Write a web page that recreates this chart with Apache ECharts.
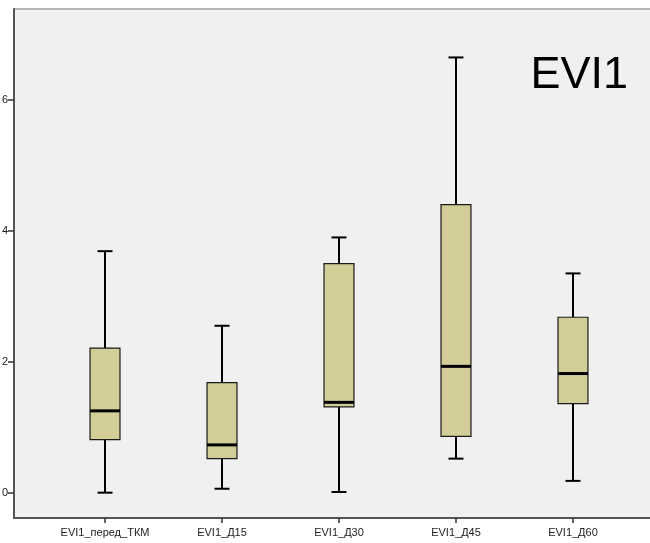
<!DOCTYPE html>
<html>
<head>
<meta charset="utf-8">
<script src="https://cdn.jsdelivr.net/npm/echarts@6/dist/echarts.min.js"></script>
<style>
  html, body { margin: 0; padding: 0; background: #ffffff; }
  #chart { width: 650px; height: 543px; }
</style>
</head>
<body>
<div id="chart"></div>
<script>
// Groups along the horizontal axis
const categories = ['EVI1_перед_ТКМ', 'EVI1_Д15', 'EVI1_Д30', 'EVI1_Д45', 'EVI1_Д60'];
// Five-number summaries per group
const whiskerLow = [0.00, 0.06, 0.01, 0.52, 0.18];
const quartile1  = [0.81, 0.52, 1.31, 0.86, 1.36];
const medians    = [1.25, 0.73, 1.38, 1.93, 1.82];
const quartile3  = [2.21, 1.68, 3.50, 4.40, 2.68];
const whiskerHigh= [3.69, 2.55, 3.90, 6.65, 3.35];
// Value axis tick marks
const yTicks = [0, 2, 4, 6];
const xPositions = categories.map((_, i) => i + 1);
const chartTitle = 'EVI1';

const boxData = categories.map((_, i) => [
  xPositions[i], whiskerLow[i], quartile1[i], medians[i], quartile3[i], whiskerHigh[i]
]);

function renderBox(params, api) {
  const x = api.value(0);
  const pLow = api.coord([x, api.value(1)]);
  const pQ1 = api.coord([x, api.value(2)]);
  const pMed = api.coord([x, api.value(3)]);
  const pQ3 = api.coord([x, api.value(4)]);
  const pHigh = api.coord([x, api.value(5)]);
  const band = api.size([1, 0])[0];
  const halfW = band * 0.128;
  const capHalf = band * 0.064;
  const cx = pMed[0];
  const whiskerStyle = { stroke: '#000', lineWidth: 2 };
  return {
    type: 'group',
    children: [
      { type: 'line', shape: { x1: cx, y1: pHigh[1], x2: cx, y2: pQ3[1] }, style: whiskerStyle },
      { type: 'line', shape: { x1: cx, y1: pQ1[1], x2: cx, y2: pLow[1] }, style: whiskerStyle },
      { type: 'line', shape: { x1: cx - capHalf, y1: pHigh[1], x2: cx + capHalf, y2: pHigh[1] }, style: whiskerStyle },
      { type: 'line', shape: { x1: cx - capHalf, y1: pLow[1], x2: cx + capHalf, y2: pLow[1] }, style: whiskerStyle },
      { type: 'rect', shape: { x: cx - halfW, y: pQ3[1], width: halfW * 2, height: pQ1[1] - pQ3[1] },
        style: { fill: '#d3ce98', stroke: '#1a1a1a', lineWidth: 1.2 } },
      { type: 'line', shape: { x1: cx - halfW, y1: pMed[1], x2: cx + halfW, y2: pMed[1] },
        style: { stroke: '#000', lineWidth: 3 } }
    ]
  };
}

const chart = echarts.init(document.getElementById('chart'), null, { renderer: 'canvas' });
chart.setOption({
  animation: false,
  backgroundColor: '#ffffff',
  title: {
    text: chartTitle,
    right: 17,
    top: 48,
    textStyle: { fontFamily: 'Liberation Sans', fontSize: 45, fontWeight: 'normal', color: '#000' }
  },
  grid: {
    left: 14, right: -3, top: 9, bottom: 25,
    outerBoundsMode: 'none',
    containLabel: false,
    show: true, backgroundColor: '#f0f0f0', borderColor: '#a0a0a0', borderWidth: 1.5
  },
  xAxis: {
    type: 'value',
    min: 0.222,
    max: 5.684,
    splitLine: { show: false },
    axisLine: { show: true, onZero: false, lineStyle: { color: '#555', width: 2 } },
    axisTick: { show: true, customValues: xPositions, length: 5, lineStyle: { color: '#333', width: 1.5 } },
    axisLabel: {
      customValues: xPositions,
      formatter: v => categories[Math.round(v) - 1] || '',
      fontFamily: 'Liberation Sans', fontSize: 11, color: '#222', margin: 9
    }
  },
  yAxis: {
    type: 'value',
    min: -0.387,
    max: 7.39,
    splitLine: { show: false },
    axisLine: { show: true, onZero: false, lineStyle: { color: '#555', width: 2 } },
    axisTick: { show: true, customValues: yTicks, length: 6, lineStyle: { color: '#333', width: 1.5 } },
    axisLabel: {
      customValues: yTicks,
      fontFamily: 'Liberation Sans', fontSize: 11, color: '#222', margin: 6
    }
  },
  series: [{
    type: 'custom',
    renderItem: renderBox,
    encode: { x: 0, y: [1, 2, 3, 4, 5] },
    data: boxData,
    clip: false
  }]
});
</script>
</body>
</html>
